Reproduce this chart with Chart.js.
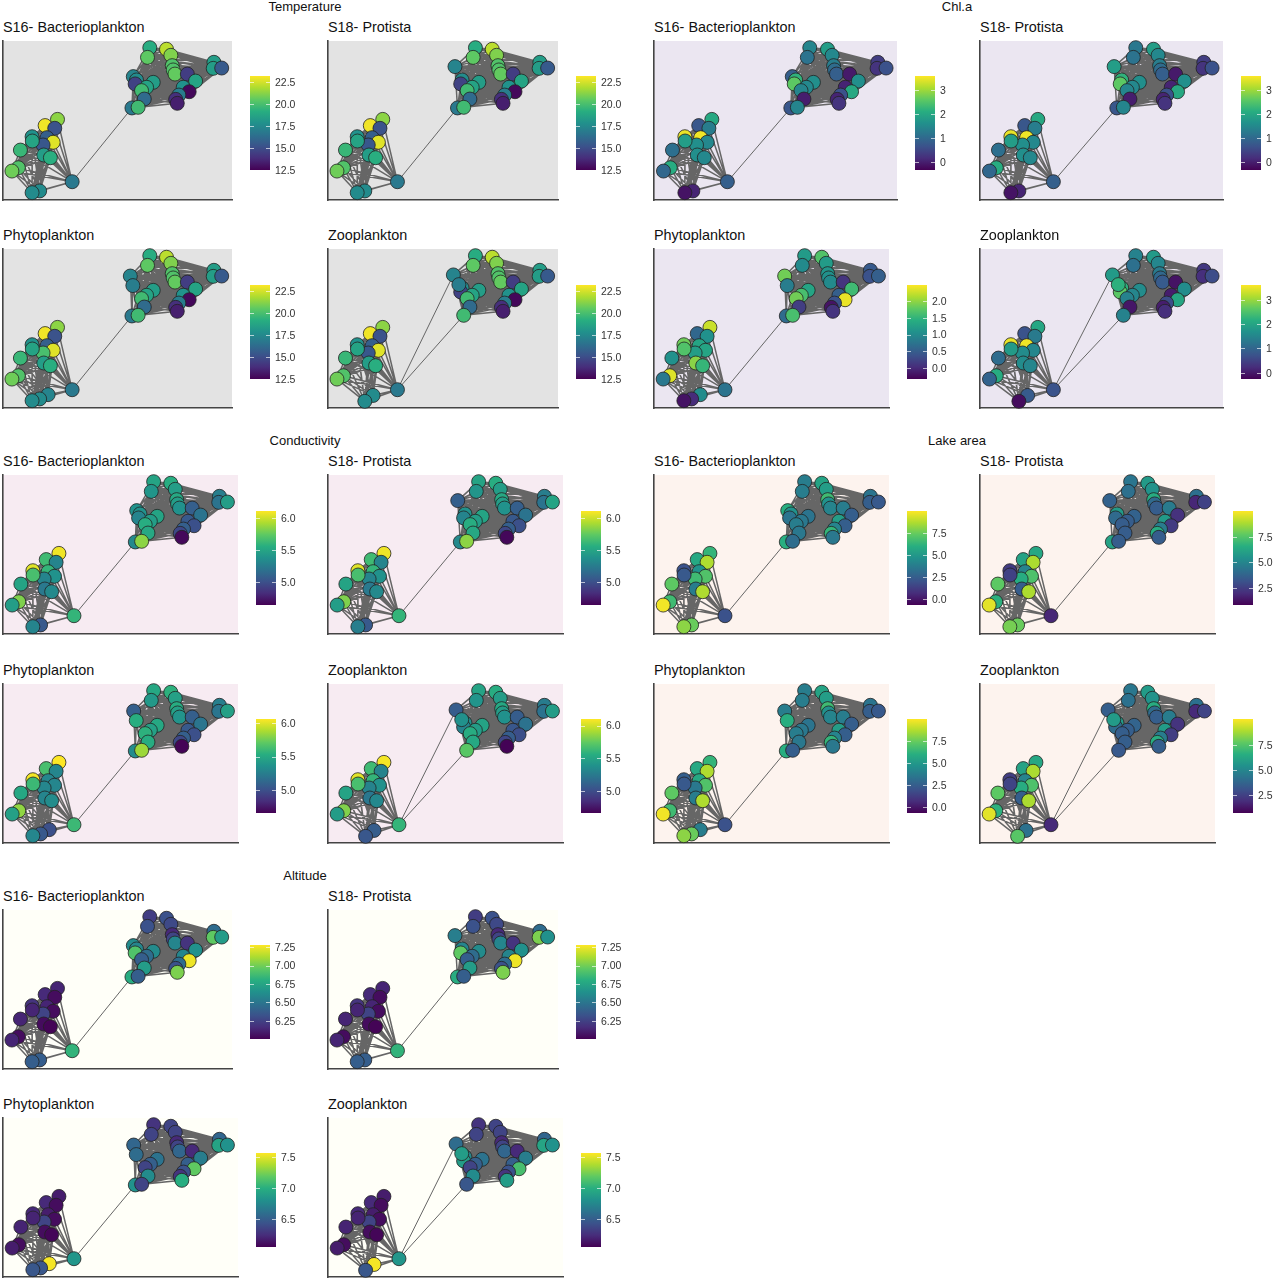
<!DOCTYPE html>
<html>
<head>
<meta charset="utf-8">
<title>Networks</title>
<script src="https://cdn.jsdelivr.net/npm/chart.js@4"></script>
<style>
    html, body { margin: 0; background: #fff; }
    body { position: relative; width: 1273px; height: 1280px; overflow: hidden; font-family: "Liberation Sans", Arial, sans-serif; }
    canvas { position: absolute; }
    .title { position: absolute; font-size: 14.4px; color: #111; white-space: nowrap; line-height: 16px; }
    .group { position: absolute; font-size: 13px; color: #111; white-space: nowrap; line-height: 14px; transform: translateX(-50%); }
</style>
</head>
<body>
<script>
// node layout, percent of the plot area, nodes numbered 1-42
const nodeX = [64.1, 63.1, 71.4, 73.3, 92.1, 91.8, 95.5, 73.9, 74.3, 75.1, 80.5, 84.1, 78.7, 81.3, 76.8, 75.4, 76.1, 56.9, 58.3, 57.7, 65.6, 62.7, 60.5, 61.7, 56.3, 59.0,
    23.8, 18.4, 22.6, 19.2, 21.9, 17.5, 12.7, 12.8, 7.6, 17.8, 20.7, 6.7, 3.9, 30.2, 16.0, 12.7];
const nodeY = [95.8, 89.7, 94.8, 91.0, 86.6, 82.8, 83.0, 84.5, 81.8, 79.2, 79.2, 74.8, 70.9, 68.1, 66.0, 63.3, 60.8, 77.6, 75.5, 73.0, 74.0, 70.9, 68.8, 63.5, 57.9, 58.3,
    50.7, 46.8, 45.1, 39.2, 36.3, 34.6, 39.8, 37.1, 31.4, 28.3, 26.6, 20.3, 18.2, 11.5, 5.7, 4.6];

const upperCluster = [1, 26];
const lowerCluster = [27, 42];
const bridgeDefault = [[40, 25]];
const bridgeZoo = [[40, 18], [40, 26]];

// nodes that sit elsewhere in some of the networks
const movedS18 = { 18: [55.2, 83.9] };
const movedPhyto = { 18: [55.6, 83.0], 19: [56.7, 77.0], 20: [19.7, 8.4] };
const movedZoo = { 18: [54.5, 83.7], 25: [56.9, 77.6], 41: [19.6, 7.9], 42: [16.0, 4.2] };
const lowerInPhyto = [20];

// values
const temperature = [19.1, 20.5, 22.1, 21.1, 18.4, 18.4, 15.5, 20.2, 20.2, 20.6, 14.4, 18.7, 17.9, 12.7, 17.0, 13.9, 13.4, 17.3, 17.6, 14.6, 18.4, 18.7, 19.8, 16.2, 16.8, 19.8,
    21.3, 23.0, 15.2, 15.7, 22.7, 15.4, 17.9, 18.7, 19.6, 18.4, 19.2, 20.2, 20.8, 16.8, 17.6, 17.6];
const chlaS16 = [1.44, 1.16, 1.83, 1.5, 0.38, 0.26, 0.65, 1.32, 1.05, 0.85, -0.05, 1.6, 0.06, 2.03, 0.65, 0.06, 0.26, 0.85, 2.2, 2.6, 1.6, 1.5, 1.44, -0.02, 0.73, 1.44,
    2.03, 0.73, 1.32, 3.52, 1.5, 1.6, 3.48, 1.83, 1.1, 1.6, 1.5, 2.1, 0.97, 0.85, 0.06, -0.13];
const chlaPhyto = [1.2, 1.0, 1.69, 1.2, 0.46, 0.37, 0.51, 1.13, 1.07, 1.0, 0.09, 1.58, 0.51, 2.4, 0.37, -0.19, 0.09, 1.86, 0.85, 1.02, 1.3, 1.64, 1.86, 0.18, 0.65, 1.64,
    2.25, 0.6, 1.07, 1.3, 1.3, 1.22, 1.85, 1.69, 1.07, 1.97, 1.52, 2.34, 0.79, 0.74, 0.01, -0.19];
const conductivity = [5.49, 5.4, 5.55, 5.45, 5.26, 5.2, 5.45, 5.52, 5.45, 5.38, 5.08, 5.2, 5.05, 5.0, 5.08, 4.96, 4.67, 5.38, 5.38, 5.3, 5.49, 5.45, 5.55, 5.52, 5.33, 5.85,
    6.08, 5.64, 5.3, 5.6, 5.38, 5.3, 6.04, 5.67, 5.49, 5.23, 5.33, 5.82, 5.45, 5.6, 5.05, 5.3];
const lakeS16 = [3.8, 3.8, 5.5, 5.2, 3.4, 2.5, 2.3, 6.6, 4.7, 4.1, 3.8, 2.5, 5.2, 2.5, 4.1, 6.3, 3.6, 6.0, 4.7, 3.4, 3.4, 3.6, 3.8, 3.6, 6.0, 3.1,
    6.3, 5.7, 8.7, 4.7, 7.0, 6.6, 2.0, 2.3, 7.3, 3.8, 8.7, 6.6, 9.8, 2.0, 7.5, 8.1];
const lakeS18 = [4.4, 4.2, 5.8, 5.5, 4.2, 1.8, 2.6, 6.5, 4.0, 3.5, 4.6, 2.1, 5.8, 2.4, 4.6, 6.5, 3.5, 3.7, 5.8, 4.0, 3.7, 3.5, 3.5, 3.5, 6.1, 3.5,
    6.3, 6.1, 8.9, 4.9, 7.4, 6.5, 2.4, 2.6, 7.7, 3.5, 8.9, 6.7, 9.7, 1.8, 7.9, 8.1];
const altitudeS16 = [6.23, 6.32, 6.32, 6.28, 6.45, 6.96, 6.7, 6.15, 6.26, 6.58, 6.19, 6.64, 6.58, 7.25, 6.45, 6.32, 7.02, 6.61, 6.58, 6.92, 6.61, 6.45, 6.38, 6.7, 6.79, 6.38,
    6.13, 6.15, 6.04, 6.13, 6.04, 6.26, 6.19, 6.13, 6.13, 6.04, 6.01, 6.04, 6.13, 6.83, 6.38, 6.38];
const altitudePhyto = [6.27, 6.35, 6.35, 6.35, 6.54, 6.93, 6.81, 6.22, 6.35, 6.54, 6.22, 6.68, 6.5, 7.19, 6.42, 6.27, 6.99, 6.54, 6.58, 7.55, 6.62, 6.5, 6.35, 6.77, 6.81, 6.35,
    6.16, 6.22, 6.09, 6.16, 6.09, 6.35, 6.22, 6.19, 6.19, 6.09, 6.06, 6.09, 6.16, 6.84, 6.45, 6.45];

// single nodes that differ from the lists above
const chlaS18Changes = { 18: 1.83, 1: 1.24 };
const chlaZooChanges = { 18: 1.83, 25: 2.2, 26: 1.44, 40: 0.73, 41: 0.85, 42: -0.13 };
const condS18Changes = { 18: 5.08, 7: 5.49, 42: 5.26 };
const condPhytoChanges = { 18: 5.08, 19: 5.53, 20: 5.0, 30: 5.3, 31: 5.3, 34: 5.6, 36: 5.29 };
const condZooChanges = { 18: 5.08, 25: 5.38, 26: 5.72, 41: 5.08, 42: 5.05 };
const lakePhytoChanges = { 18: 3.8, 19: 6.0, 20: 3.8, 30: 5.7, 32: 3.6, 33: 2.5, 26: 2.5 };
const lakeZooChanges = { 18: 3.5, 25: 5.8, 26: 3.3, 41: 4.2, 42: 7.6 };
const altS18Changes = { 18: 6.54, 6: 7.02, 7: 6.64, 20: 6.96 };
const altZooChanges = { 18: 6.58, 25: 6.88, 19: 6.74, 20: 6.88, 26: 6.45, 41: 7.55, 42: 6.45, 14: 7.11, 17: 6.88 };
const tempPhytoChanges = { 19: 17.0, 20: 17.3, 32: 20.0 };
const tempZooChanges = { 25: 17.0 };

// colour bar ticks
const tempTicks = ['12.5', '15.0', '17.5', '20.0', '22.5'];
const chlaTicks = ['0', '1', '2', '3'];
const chlaPhytoTicks = ['0.0', '0.5', '1.0', '1.5', '2.0'];
const condTicks = ['5.0', '5.5', '6.0'];
const lakeTicks = ['0.0', '2.5', '5.0', '7.5'];
const lakeS18Ticks = ['2.5', '5.0', '7.5'];
const altTicks = ['6.25', '6.50', '6.75', '7.00', '7.25'];
const altPhytoTicks = ['6.5', '7.0', '7.5'];

const viridis = ['#440154', '#472d7b', '#3b528b', '#2c728e', '#21918c', '#28ae80', '#5ec962', '#addc30', '#fde725'];

const bgTemp = '#e3e3e3', bgChla = '#ebe6f1', bgCond = '#f7ebf2', bgLake = '#fdf3ee', bgAlt = '#fffff8';
const S16 = 'S16- Bacterioplankton', S18 = 'S18- Protista', PHY = 'Phytoplankton', ZOO = 'Zooplankton';

function changed(list, changes) {
    const out = list.slice();
    Object.keys(changes).forEach(k => { out[k - 1] = changes[k]; });
    return out;
}

function hexRgb(h) {
    return [1, 3, 5].map(i => parseInt(h.substr(i, 2), 16));
}

function viridisColor(t) {
    t = Math.min(1, Math.max(0, t));
    const p = t * (viridis.length - 1);
    const i = Math.min(viridis.length - 2, Math.floor(p));
    const a = hexRgb(viridis[i]), b = hexRgb(viridis[i + 1]);
    const c = a.map((v, n) => Math.round(v + (b[n] - v) * (p - i)));
    return `rgb(${c[0]},${c[1]},${c[2]})`;
}

const panels = [
    { title: S16, bg: bgTemp, x: 3, y: 41, w: 229, values: temperature, bar: { x: 250, y: 76, min: 12.5, max: 23.2, ticks: tempTicks } },
    { title: S18, bg: bgTemp, x: 328, y: 41, w: 230, moved: movedS18, values: temperature, bar: { x: 576, y: 76, min: 12.5, max: 23.2, ticks: tempTicks } },
    { title: PHY, bg: bgTemp, x: 3, y: 249, w: 229, moved: movedPhyto, lower: lowerInPhyto, values: changed(temperature, tempPhytoChanges), bar: { x: 250, y: 285, min: 12.5, max: 23.2, ticks: tempTicks } },
    { title: ZOO, bg: bgTemp, x: 328, y: 249, w: 230, moved: movedZoo, bridge: bridgeZoo, values: changed(temperature, tempZooChanges), bar: { x: 576, y: 285, min: 12.5, max: 23.2, ticks: tempTicks } },

    { title: S16, bg: bgChla, x: 654, y: 41, w: 243, values: chlaS16, bar: { x: 915, y: 76, min: -0.33, max: 3.6, ticks: chlaTicks } },
    { title: S18, bg: bgChla, x: 980, y: 41, w: 243, moved: movedS18, values: changed(chlaS16, chlaS18Changes), bar: { x: 1241, y: 76, min: -0.33, max: 3.6, ticks: chlaTicks } },
    { title: PHY, bg: bgChla, x: 654, y: 249, w: 235, moved: movedPhyto, lower: lowerInPhyto, values: chlaPhyto, bar: { x: 907, y: 285, min: -0.33, max: 2.48, ticks: chlaPhytoTicks } },
    { title: ZOO, bg: bgChla, x: 980, y: 249, w: 243, moved: movedZoo, bridge: bridgeZoo, values: changed(chlaS16, chlaZooChanges), bar: { x: 1241, y: 285, min: -0.25, max: 3.6, ticks: chlaTicks } },

    { title: S16, bg: bgCond, x: 3, y: 475, w: 235, values: conductivity, bar: { x: 256, y: 511, min: 4.64, max: 6.11, ticks: condTicks } },
    { title: S18, bg: bgCond, x: 328, y: 475, w: 235, moved: movedS18, values: changed(conductivity, condS18Changes), bar: { x: 581, y: 511, min: 4.64, max: 6.11, ticks: condTicks } },
    { title: PHY, bg: bgCond, x: 3, y: 684, w: 235, moved: movedPhyto, lower: lowerInPhyto, values: changed(conductivity, condPhytoChanges), bar: { x: 256, y: 719, min: 4.66, max: 6.06, ticks: condTicks } },
    { title: ZOO, bg: bgCond, x: 328, y: 684, w: 235, moved: movedZoo, bridge: bridgeZoo, values: changed(conductivity, condZooChanges), bar: { x: 581, y: 719, min: 4.66, max: 6.1, ticks: condTicks } },

    { title: S16, bg: bgLake, x: 654, y: 475, w: 235, values: lakeS16, bar: { x: 907, y: 511, min: -0.68, max: 10, ticks: lakeTicks } },
    { title: S18, bg: bgLake, x: 980, y: 475, w: 235, moved: movedS18, values: lakeS18, bar: { x: 1233, y: 511, min: 0.8, max: 10.07, ticks: lakeS18Ticks } },
    { title: PHY, bg: bgLake, x: 654, y: 684, w: 235, moved: movedPhyto, lower: lowerInPhyto, values: changed(lakeS16, lakePhytoChanges), bar: { x: 907, y: 719, min: -0.68, max: 10, ticks: lakeTicks } },
    { title: ZOO, bg: bgLake, x: 980, y: 684, w: 235, moved: movedZoo, bridge: bridgeZoo, values: changed(lakeS18, lakeZooChanges), bar: { x: 1233, y: 719, min: 0.7, max: 10.1, ticks: lakeS18Ticks } },

    { title: S16, bg: bgAlt, x: 3, y: 910, w: 229, values: altitudeS16, bar: { x: 250, y: 945, min: 6.0, max: 7.28, ticks: altTicks } },
    { title: S18, bg: bgAlt, x: 328, y: 910, w: 230, moved: movedS18, values: changed(altitudeS16, altS18Changes), bar: { x: 576, y: 945, min: 6.0, max: 7.28, ticks: altTicks } },
    { title: PHY, bg: bgAlt, x: 3, y: 1118, w: 235, moved: movedPhyto, lower: lowerInPhyto, values: altitudePhyto, bar: { x: 256, y: 1153, min: 6.04, max: 7.57, ticks: altPhytoTicks } },
    { title: ZOO, bg: bgAlt, x: 328, y: 1118, w: 235, moved: movedZoo, bridge: bridgeZoo, values: changed(altitudePhyto, altZooChanges), bar: { x: 581, y: 1153, min: 6.04, max: 7.57, ticks: altPhytoTicks } }
];

const groups = [
    { name: 'Temperature', x: 305, y: 0 },
    { name: 'Chl.a', x: 957, y: 0 },
    { name: 'Conductivity', x: 305, y: 434 },
    { name: 'Lake area', x: 957, y: 434 },
    { name: 'Altitude', x: 305, y: 869 }
];

const PLOT_H = 159, BAR_W = 20, BAR_H = 94, PAD = 9;

function addCanvas(left, top, w, h) {
    const c = document.createElement('canvas');
    c.width = w; c.height = h;
    c.style.left = left + 'px'; c.style.top = top + 'px';
    c.style.width = w + 'px'; c.style.height = h + 'px';
    document.body.appendChild(c);
    return c;
}

function addText(cls, text, left, top) {
    const d = document.createElement('div');
    d.className = cls; d.innerText = text;
    d.style.left = left + 'px'; d.style.top = top + 'px';
    document.body.appendChild(d);
}

const plotBackground = {
    id: 'plotBackground',
    beforeDraw(chart, args, opts) {
        const a = chart.chartArea;
        chart.ctx.save();
        chart.ctx.fillStyle = opts.color;
        chart.ctx.fillRect(a.left, a.top, a.width, a.height);
        chart.ctx.restore();
    }
};

const barTicks = {
    id: 'barTicks',
    afterDatasetsDraw(chart) {
        const a = chart.chartArea, ctx = chart.ctx, y = chart.scales.y;
        ctx.save();
        ctx.strokeStyle = 'rgba(255,255,255,0.65)';
        ctx.lineWidth = 1;
        y.ticks.forEach(t => {
            const py = Math.round(y.getPixelForValue(t.value)) + 0.5;
            ctx.beginPath();
            ctx.moveTo(a.left, py); ctx.lineTo(a.left + 4, py);
            ctx.moveTo(a.right - 4, py); ctx.lineTo(a.right, py);
            ctx.stroke();
        });
        ctx.restore();
    }
};

function range(c) {
    const out = [];
    for (let n = c[0]; n <= c[1]; n++) out.push(n);
    return out;
}

function drawNetwork(p) {
    const moved = p.moved || {};
    const lowerExtra = p.lower || [];
    const nodes = nodeX.map((x, i) => moved[i + 1] ? { x: moved[i + 1][0], y: moved[i + 1][1] } : { x: x, y: nodeY[i] });
    const edges = [], bridges = [];
    const addEdge = (list, a, b) => list.push(nodes[a - 1], nodes[b - 1], { x: null, y: null });
    const upper = range(upperCluster).filter(n => !lowerExtra.includes(n));
    const lower = range(lowerCluster).concat(lowerExtra);
    [upper, lower].forEach(c => {
        c.forEach((a, i) => c.slice(i + 1).forEach(b => addEdge(edges, a, b)));
    });
    (p.bridge || bridgeDefault).forEach(e => addEdge(bridges, e[0], e[1]));

    const colors = p.values.map(v => viridisColor((v - p.bar.min) / (p.bar.max - p.bar.min)));
    const canvas = addCanvas(p.x - PAD, p.y - PAD, p.w + 2 * PAD, PLOT_H + 2 * PAD);
    const axis = (position) => ({
        type: 'linear', position: position, min: 0, max: 100,
        ticks: { display: false },
        grid: { display: false, drawTicks: false },
        border: { display: true, color: '#444', width: 1.6 },
        afterFit: s => { if (position === 'left') s.width = 0; else s.height = 0; }
    });
    new Chart(canvas, {
        type: 'scatter',
        data: {
            datasets: [
                { data: nodes, backgroundColor: colors, borderColor: '#222', borderWidth: 0.8, pointRadius: 7, clip: false },
                { data: edges, showLine: true, spanGaps: false, borderColor: '#666', borderWidth: 1.5, pointRadius: 0, clip: false },
                { data: bridges, showLine: true, spanGaps: false, borderColor: '#666', borderWidth: 1, pointRadius: 0, clip: false }
            ]
        },
        options: {
            responsive: false, animation: false, events: [],
            layout: { autoPadding: false, padding: PAD },
            scales: { x: axis('bottom'), y: axis('left') },
            plugins: { legend: { display: false }, tooltip: { enabled: false }, plotBackground: { color: p.bg } }
        },
        plugins: [plotBackground]
    });
}

function drawColorBar(b) {
    const canvas = addCanvas(b.x, b.y - PAD, 60, BAR_H + 2 * PAD);
    new Chart(canvas, {
        type: 'bar',
        data: {
            labels: [''],
            datasets: [{
                data: [[b.min, b.max]],
                barPercentage: 1, categoryPercentage: 1, borderWidth: 0,
                backgroundColor: c => {
                    const a = c.chart.chartArea;
                    if (!a) return viridis[4];
                    const g = c.chart.ctx.createLinearGradient(0, a.bottom, 0, a.top);
                    viridis.forEach((col, i) => g.addColorStop(i / (viridis.length - 1), col));
                    return g;
                }
            }]
        },
        options: {
            responsive: false, animation: false, events: [],
            layout: { autoPadding: false, padding: { top: PAD, bottom: PAD, left: 0, right: 0 } },
            scales: {
                x: { display: false },
                y: {
                    position: 'right', min: b.min, max: b.max,
                    afterBuildTicks: s => { s.ticks = b.ticks.map(t => ({ value: Number(t) })); },
                    afterFit: s => { s.width = 60 - BAR_W; s.paddingTop = 0; s.paddingBottom = 0; },
                    ticks: { callback: (v, i) => b.ticks[i], color: '#333', padding: 5, labelOffset: 1, autoSkip: false, maxRotation: 0, font: { family: 'Liberation Sans', size: 10.5 } },
                    grid: { display: false, drawTicks: false },
                    border: { display: false }
                }
            },
            plugins: { legend: { display: false }, tooltip: { enabled: false } }
        },
        plugins: [barTicks]
    });
}

groups.forEach(g => addText('group', g.name, g.x, g.y));
panels.forEach(p => {
    addText('title', p.title, p.x, p.y - 22);
    drawNetwork(p);
    drawColorBar(p.bar);
});
</script>
</body>
</html>
